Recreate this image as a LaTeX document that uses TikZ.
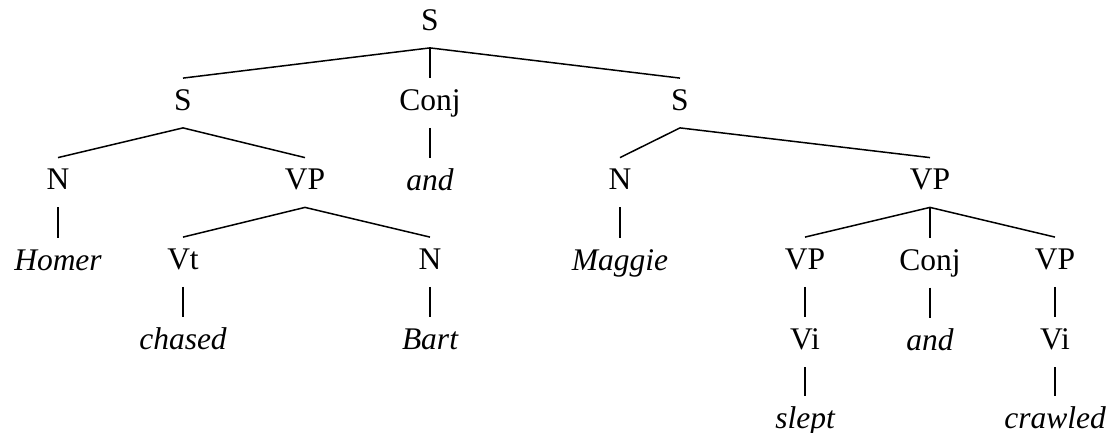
\documentclass[tikz,border=0pt]{standalone}
\usepackage{fontspec}
\setmainfont{Liberation Serif}
\usetikzlibrary{positioning}
\tikzstyle{cat} = [inner sep=0pt, text height=16pt, text depth=8.5pt, font=\fontsize{15.75}{19}\selectfont]
\tikzstyle{word} = [cat, font=\fontsize{15.75}{19}\selectfont\itshape]
\tikzstyle{branch} = [line width=0.75pt]

\begin{document}
\begin{tikzpicture}[x=0.5pt, y=-0.5pt, node distance=15.25pt]
	\useasboundingbox (0,0) rectangle (1110,433);
	% top two levels
	\node (s) [cat, anchor=base] at (430,30.5) {S};
	\node (s1) [cat, anchor=base] at (183,110.5) {S};
	\node (conj1) [cat, anchor=base] at (430,110.5) {Conj};
	\node (s2) [cat, anchor=base] at (680,110.5) {S};
	% left clause
	\node (n1) [cat, anchor=base] at (58,190) {N};
	\node (vp1) [cat, anchor=base] at (305,190) {VP};
	\node (homer) [word, below=of n1] {Homer};
	\node (vt) [cat, anchor=base] at (183,269.5) {Vt};
	\node (n3) [cat, anchor=base] at (430,269.5) {N};
	\node (chased) [word, below=of vt] {chased};
	\node (bart) [word, below=of n3] {Bart};
	% conjunction
	\node (and1) [word, below=of conj1] {and};
	% right clause
	\node (n2) [cat, anchor=base] at (620,190) {N};
	\node (vp2) [cat, anchor=base] at (930,190) {VP};
	\node (maggie) [word, below=of n2] {Maggie};
	\node (vp3) [cat, anchor=base] at (805,269.5) {VP};
	\node (conj2) [cat, below=of vp2] {Conj};
	\node (vp4) [cat, anchor=base] at (1055,269.5) {VP};
	\node (vi1) [cat, below=of vp3] {Vi};
	\node (and2) [word, below=of conj2] {and};
	\node (vi2) [cat, below=of vp4] {Vi};
	\node (slept) [word, below=14.5pt of vi1] {slept};
	\node (crawled) [word, below=14.5pt of vi2] {crawled};

	\foreach \a/\b in {s/s1, s/conj1, s/s2, s1/n1, s1/vp1, conj1/and1, s2/n2, s2/vp2,
		n1/homer, vp1/vt, vp1/n3, vt/chased, n3/bart, n2/maggie,
		vp2/vp3, vp2/conj2, vp2/vp4, vp3/vi1, conj2/and2, vp4/vi2, vi1/slept, vi2/crawled}
		\draw [branch] (\a.south) -- (\b.north);
\end{tikzpicture}
\end{document}
